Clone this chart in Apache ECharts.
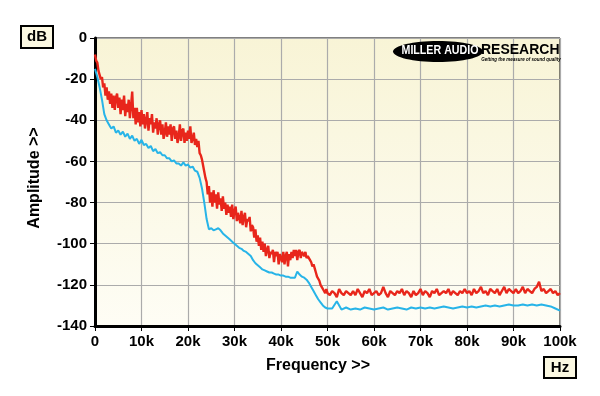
<!DOCTYPE html>
<html><head><meta charset="utf-8">
<script src="https://cdn.jsdelivr.net/npm/echarts@6/dist/echarts.min.js"></script>
<style>html,body{margin:0;padding:0;background:#fff}#c{width:600px;height:396px}</style>
</head><body><div id="c"></div>
<script>
// Frequency grid steps (kHz)
const redLowStep = 0.25;   // red, 0..50 kHz
const redHighStart = 50.5, redHighStep = 0.5; // red, 50.5..100 kHz
const blueLowStep = 0.5;   // blue, 0..50 kHz
const blueHighStart = 51, blueHighStep = 1;   // blue, 51..100 kHz

// Red trace, dB, 0..50 kHz every 0.25 kHz
const redLow = [
 -8,-11,-12,-16,
 -16,-20,-19,-24,
 -22,-28,-24,-30,
 -26,-32,-27,-34,
 -28,-35,-29,-27,
 -34,-29,-37,-30,
 -35,-28,-38,-32,
 -36,-30,-39,-33,
 -26,-39,-34,-42,
 -34,-41,-36,-43,
 -35,-42,-37,-44,
 -40,-36,-45,-39,
 -42,-37,-46,-41,
 -44,-39,-47,-42,
 -40,-47,-42,-49,
 -46,-41,-48,-43,
 -47,-42,-50,-44,
 -43,-49,-45,-51,
 -48,-42,-50,-45,
 -44,-51,-46,-50,
 -45,-49,-43,-51,
 -49,-46,-52,-49,
 -53,-50,-56,-57,
 -59,-62,-65,-68,
 -70,-76,-72,-80,
 -75,-82,-74,-80,
 -76,-83,-75,-81,
 -78,-84,-77,-83,
 -80,-86,-81,-85,
 -82,-87,-81,-88,
 -84,-82,-89,-85,
 -85,-90,-84,-91,
 -87,-85,-92,-88,
 -89,-87,-94,-91,
 -92,-97,-93,-99,
 -96,-101,-97,-103,
 -99,-104,-100,-106,
 -103,-101,-107,-104,
 -105,-103,-109,-104,
 -106,-104,-110,-105,
 -105,-109,-104,-110,
 -106,-104,-111,-105,
 -108,-104,-107,-103,
 -106,-103,-108,-104,
 -103,-107,-104,-105,
 -106,-104,-107,-106,
 -107,-108,-109,-111,
 -110,-112,-114,-116,
 -116,-118,-120,-121,
 -121,-123,-124,-122,
 -124
];
// Red trace, dB, 50.5..100 kHz every 0.5 kHz
const redHigh = [
 -125,-123,-124,-126,-122,-124,-125,-123,-124,-125,
 -123,-125,-122,-124,-126,-123,-124,-122,-125,-124,
 -123,-125,-124,-121,-124,-126,-123,-124,-125,-123,
 -124,-122,-125,-123,-124,-126,-123,-125,-124,-122,
 -125,-123,-124,-126,-123,-124,-122,-125,-124,-123,
 -124,-122,-125,-123,-124,-125,-123,-124,-122,-124,
 -123,-125,-122,-124,-123,-121,-124,-123,-125,-122,
 -123,-124,-122,-125,-123,-121,-124,-122,-123,-124,
 -122,-124,-123,-121,-124,-122,-123,-124,-122,-121,
 -118.5,-123,-122,-124,-123,-122,-124,-123,-125,-124
];
// Blue trace, dB, 0..50 kHz every 0.5 kHz
const blueLow = [
 -15,-19, -24,-30, -37,-40, -42,-44, -43,-46,
 -45,-47, -45.5,-48, -46.5,-49, -47.5,-50, -49,-51.5,
 -49.5,-52, -51.5,-53.5, -52.5,-55, -54,-56, -55.5,-57,
 -57,-58.5, -58.5,-60, -59.5,-61, -61,-62, -60.5,-62,
 -61.5,-63, -62.5,-64.5, -65,-68, -73,-80, -88,-93,
 -92.5,-93.5, -93,-92.5, -93.5,-95, -96,-97, -98,-99,
 -100,-101, -102,-102.5, -103.5,-104, -105,-106, -108,-109.5,
 -110.5,-111.5, -112.5,-113, -113.5,-114, -114,-114.5, -115,-115,
 -115.5,-115.5, -116,-116, -116.5,-116.5, -116.5,-113.5, -115,-116,
 -116.5,-117.5, -119,-121, -123,-125, -127,-128.5, -130,-131,
 -131.5
];
// Blue trace, dB, 51..100 kHz every 1 kHz
const blueHigh = [
 -131.5,-128,-132,-131,-132,-131.5,-132,-131,-131.5,-132,
 -131.5,-131,-132,-131.5,-131,-131.5,-132,-131,-131.5,-131,
 -131.5,-131,-131.5,-131,-130.5,-131,-131.5,-131,-130.5,-131,
 -130.5,-131,-130.5,-130,-130.5,-130,-130.5,-130,-129.5,-130,
 -130,-129.5,-130,-129.5,-130,-129.5,-130,-130.5,-131.5,-132.5
];
const xTicks = [0,10,20,30,40,50,60,70,80,90,100];
const yTicks = [0,-20,-40,-60,-80,-100,-120,-140];

function pairs(start, step, vals){ return vals.map((v,i)=>[+(start+i*step).toFixed(3), v]); }
const redData = pairs(0, redLowStep, redLow).concat(pairs(redHighStart, redHighStep, redHigh));
const blueData = pairs(0, blueLowStep, blueLow).concat(pairs(blueHighStart, blueHighStep, blueHigh));

const chart = echarts.init(document.getElementById('c'), null, {renderer:'canvas'});
const FONT = '"Liberation Sans", Arial, sans-serif';
chart.setOption({
  animation:false,
  grid:{left:95,right:40,top:38,bottom:70,show:true,
    backgroundColor:new echarts.graphic.LinearGradient(0,0,0,1,[{offset:0,color:'#F8F4D6'},{offset:1,color:'#FEFDF5'}]),
    borderColor:'#000',borderWidth:1},
  xAxis:{type:'value',min:xTicks[0],max:xTicks[xTicks.length-1],interval:10,
    axisLine:{show:true,onZero:false,lineStyle:{color:'#000',width:3}},
    axisTick:{show:true,length:5,lineStyle:{color:'#000',width:1}},
    axisLabel:{margin:8,color:'#000',fontFamily:FONT,fontWeight:'bold',fontSize:15,
      formatter:v=>v===0?'0':v+'k'},
    splitLine:{show:true,lineStyle:{color:'#ababab',width:1.2}}},
  yAxis:{type:'value',min:yTicks[yTicks.length-1],max:yTicks[0],interval:20,
    axisLine:{show:true,onZero:false,lineStyle:{color:'#000',width:3}},
    axisTick:{show:true,length:5,lineStyle:{color:'#000',width:1}},
    axisLabel:{margin:8,color:'#000',fontFamily:FONT,fontWeight:'bold',fontSize:15},
    splitLine:{show:true,lineStyle:{color:'#ababab',width:1.2}}},
  series:[
    {type:'line',data:blueData,showSymbol:false,lineStyle:{color:'#27B4E8',width:2},z:2},
    {type:'line',data:redData,showSymbol:false,lineStyle:{color:'#E8261B',width:2.4},z:3}
  ],
  graphic:[
    {type:'rect',shape:{x:21,y:26,width:32,height:22},style:{fill:'#FBF8E2',stroke:'#000',lineWidth:2}},
    {type:'text',x:37,y:37,style:{text:'dB',fill:'#000',font:'bold 15px '+FONT,textAlign:'center',textVerticalAlign:'middle'}},
    {type:'rect',shape:{x:544,y:357,width:32,height:21},style:{fill:'#FBF8E2',stroke:'#000',lineWidth:2}},
    {type:'text',x:560,y:368,style:{text:'Hz',fill:'#000',font:'bold 15px '+FONT,textAlign:'center',textVerticalAlign:'middle'}},
    {type:'text',x:318,y:366,style:{text:'Frequency >>',fill:'#000',font:'bold 16px '+FONT,textAlign:'center',textVerticalAlign:'middle'}},
    {type:'text',x:35,y:178,rotation:Math.PI/2,style:{text:'Amplitude >>',fill:'#000',font:'bold 16px '+FONT,textAlign:'center',textVerticalAlign:'middle'}},
    {type:'ellipse',shape:{cx:438,cy:51.5,rx:45,ry:10.5},style:{fill:'#000'},z:10},
    {type:'text',x:440,y:50,scaleX:0.82,style:{text:'MILLER AUDIO',fill:'#fff',font:'900 13px '+FONT,textAlign:'center',textVerticalAlign:'middle'},z:11},
    {type:'text',x:481,y:50,style:{text:'RESEARCH',fill:'#000',font:'900 14px '+FONT,textAlign:'left',textVerticalAlign:'middle'},z:11},
    {type:'text',x:521,y:59.5,scaleX:0.9,style:{text:'Getting the measure of sound quality',fill:'#000',font:'italic bold 5px '+FONT,textAlign:'center',textVerticalAlign:'middle'},z:11}
  ]
});
</script></body></html>
